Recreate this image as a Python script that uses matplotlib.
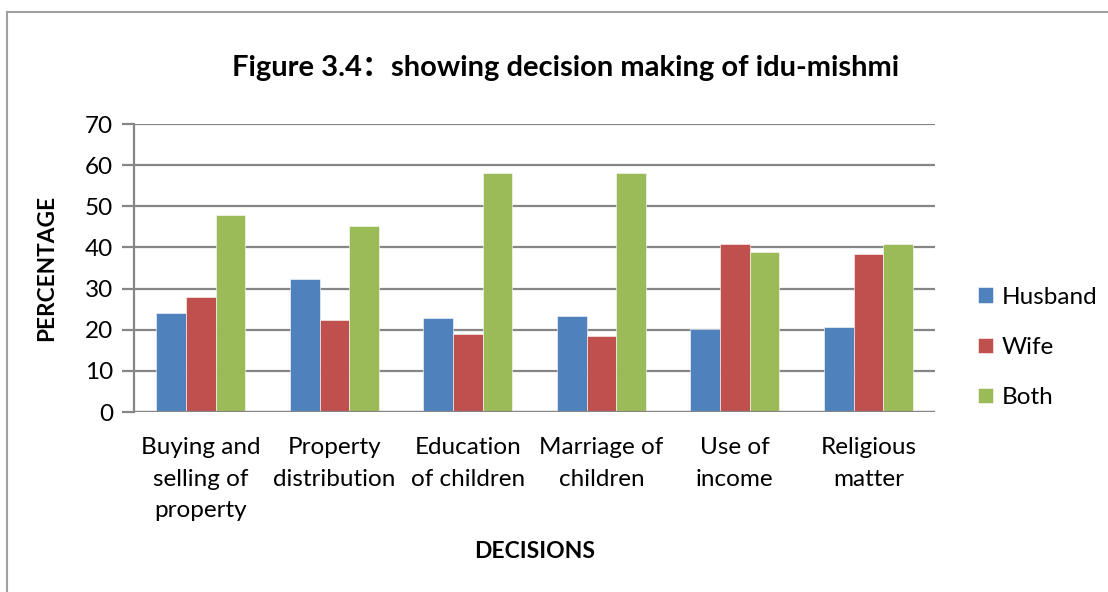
import matplotlib
matplotlib.use("Agg")
import matplotlib.pyplot as plt
import numpy as np

categories = [
    "Buying and\nselling of\nproperty",
    "Property\ndistribution",
    "Education\nof children",
    "Marriage of\nchildren",
    "Use of\nincome",
    "Religious\nmatter",
]
series_names = ["Husband", "Wife", "Both"]
husband = [24.0, 32.3, 22.8, 23.3, 20.1, 20.6]
wife = [27.9, 22.3, 18.9, 18.4, 40.9, 38.4]
both = [47.9, 45.2, 58.2, 58.2, 38.9, 40.9]
y_ticks = [0, 10, 20, 30, 40, 50, 60, 70]

COLORS = ["#4F81BD", "#C0504D", "#9BBB59"]
GRID = "#868686"
FONT = "Lato"

plt.rcParams["font.family"] = [FONT, "DejaVu Sans"]

fig = plt.figure(figsize=(11.08, 5.92), dpi=100, facecolor="white")
ax = fig.add_axes([0.121, 0.304, 0.723, 0.4865])

x = np.arange(len(categories))
bw = 0.222
for i, (vals, name) in enumerate(zip([husband, wife, both], series_names)):
    ax.bar(x + (i - 1) * bw, vals, width=bw, color=COLORS[i], label=name,
           edgecolor="white", linewidth=0.4, zorder=3)

ax.set_xlim(-0.5, len(categories) - 0.5)
ax.set_ylim(0, 70)
ax.set_yticks(y_ticks)
ax.yaxis.grid(True, color=GRID, linewidth=1.6, zorder=0)
ax.set_xticks(x)
ax.set_xticklabels(categories, fontsize=17.5, linespacing=1.62)
ax.tick_params(axis="x", length=0, pad=18)
ax.tick_params(axis="y", length=9, width=1.6, color=GRID, labelsize=17.5, pad=6)
for side in ["top", "right", "bottom"]:
    ax.spines[side].set_visible(False)
ax.spines["left"].set_color(GRID)
ax.spines["left"].set_linewidth(1.6)
ax.axhline(0, color=GRID, linewidth=1.6, zorder=4)

ax.set_ylabel("PERCENTAGE", fontsize=16.3, fontweight="bold", labelpad=20)
ax.set_xlabel("DECISIONS", fontsize=16.5, fontweight="bold", labelpad=14)

fig.text(0.51, 0.885, "Figure 3.4\uff1ashowing decision making of idu-mishmi",
         ha="center", va="center", fontsize=21, fontweight="bold",
         family=[FONT, "Noto Sans CJK SC", "DejaVu Sans"])

leg = fig.legend(loc="center left", bbox_to_anchor=(0.883, 0.413), frameon=False,
                 fontsize=17.5, handlelength=0.62, handleheight=0.62,
                 handletextpad=0.35, labelspacing=1.2,
                 borderpad=0, borderaxespad=0)

# outer chart border (left and top visible)
fig.add_artist(plt.Line2D([0.0065, 0.0065], [0.0, 0.98], color="#A0A0A0",
                          linewidth=1.5, transform=fig.transFigure))
fig.add_artist(plt.Line2D([0.0065, 1.0], [0.98, 0.98], color="#A0A0A0",
                          linewidth=1.5, transform=fig.transFigure))

fig.savefig("out.png", dpi=100, facecolor="white")
